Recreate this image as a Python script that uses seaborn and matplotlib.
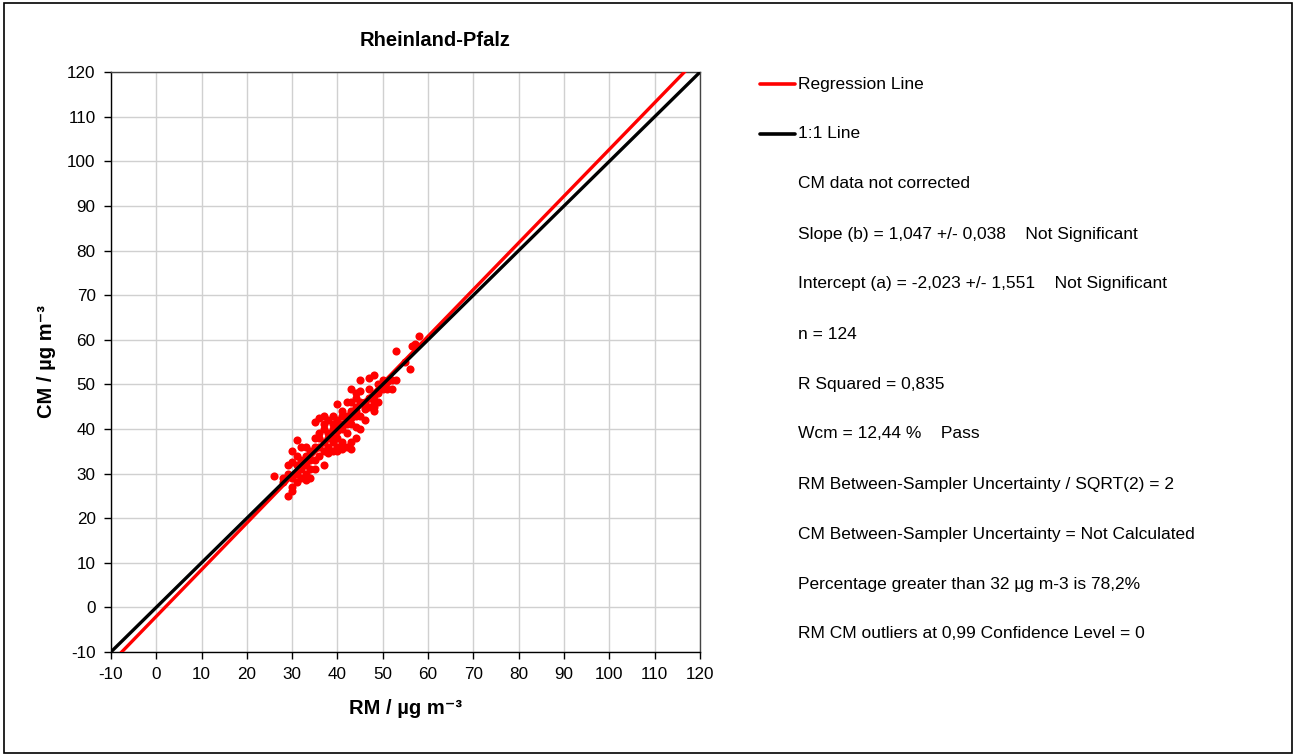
import numpy as np
import pandas as pd
import matplotlib
matplotlib.use("Agg")
import matplotlib.pyplot as plt
from matplotlib.patches import Rectangle
import seaborn as sns

# Paired measurements: reference method (RM) vs candidate method (CM), µg m-3
rm = [58, 57, 56.5, 53, 55, 56, 52, 53, 51, 50, 51, 50, 49, 48, 47, 47, 48, 49, 47, 48,
      46, 45, 44, 43, 44, 43, 45, 44, 42, 43, 41, 42, 40, 41, 40, 39, 38, 37, 36, 35,
      37, 38, 39, 40, 41, 42, 43, 44, 45, 46, 45, 44, 42, 43, 41, 40, 39, 38, 37, 36,
      35, 36, 37, 35, 34, 34, 33, 33, 32, 31, 30, 31, 32, 33, 32, 31, 30, 29, 28, 26,
      29, 30, 33, 30, 29, 30, 31, 32, 34, 36, 38, 39, 40, 41, 42, 46, 47, 48, 44, 38,
      40, 36, 37, 35, 34, 39, 37, 40, 42, 43, 44, 45, 46, 48, 49, 50, 52, 35, 33, 31,
      39, 41, 43, 28]
cm = [60.8, 59, 58.5, 57.5, 55, 53.5, 51, 51, 50.5, 50, 49, 49, 48, 52, 51.5, 47, 46, 46, 45, 44,
      44.5, 51, 48, 49, 47, 46, 46, 45, 46, 44, 44, 42, 45.5, 43, 42, 40, 42, 43, 42.5, 41.5,
      40, 39, 38, 38, 40, 39, 41, 40.5, 43, 42, 40, 38, 36, 37, 37, 36, 35, 36, 37, 38,
      36, 34, 32, 33, 33, 31, 34, 36, 36, 37.5, 35, 32, 31, 30, 29, 28, 29, 30, 29, 29.5,
      32, 32.5, 28.5, 27, 25, 26, 30, 33, 35, 36, 38, 37, 39.5, 41, 43, 46, 49, 47.5, 43, 34.5,
      35, 39, 35, 31, 29, 41, 41, 40.5, 41, 42.5, 44, 48.5, 45, 45, 50, 51, 49, 38, 32, 34,
      43, 35.5, 35.5, 28]

slope = 1.047
intercept = -2.023
axis_ticks = list(range(-10, 121, 10))

stats_lines = [
    "CM data not corrected",
    "Slope (b) = 1,047 +/- 0,038    Not Significant",
    "Intercept (a) = -2,023 +/- 1,551    Not Significant",
    "n = 124",
    "R Squared = 0,835",
    "Wcm = 12,44 %    Pass",
    "RM Between-Sampler Uncertainty / SQRT(2) = 2",
    "CM Between-Sampler Uncertainty = Not Calculated",
    "Percentage greater than 32 µg m-3 is 78,2%",
    "RM CM outliers at 0,99 Confidence Level = 0",
]

sns.set_style("white")
plt.rcParams["font.family"] = ["Liberation Sans", "DejaVu Sans"]
plt.rcParams["axes.unicode_minus"] = False
plt.rcParams["text.color"] = "black"
plt.rcParams["axes.labelcolor"] = "black"
plt.rcParams["xtick.color"] = "black"
plt.rcParams["ytick.color"] = "black"

fig = plt.figure(figsize=(12.96, 7.56), dpi=100)
fig.patches.append(Rectangle((0.003, 0.004), 0.994, 0.992, transform=fig.transFigure,
                             fill=False, edgecolor="black", linewidth=1.2))

ax = fig.add_axes([0.0856, 0.1376, 0.4545, 0.767])

line_x = np.array([-10, 120], dtype=float)
lines = pd.DataFrame({
    "x": np.concatenate([line_x, line_x]),
    "y": np.concatenate([slope * line_x + intercept, line_x]),
    "kind": ["Regression Line"] * 2 + ["1:1 Line"] * 2,
})

pts = pd.DataFrame({"RM": rm, "CM": cm})
sns.scatterplot(data=pts, x="RM", y="CM", ax=ax, color="#ff0000", s=34,
                linewidth=0, zorder=3, legend=False)
sns.lineplot(data=lines[lines.kind == "Regression Line"], x="x", y="y", ax=ax,
             color="#ff0000", linewidth=2.4, zorder=4, legend=False)
sns.lineplot(data=lines[lines.kind == "1:1 Line"], x="x", y="y", ax=ax,
             color="black", linewidth=2.4, zorder=5, legend=False)

ax.set_xlim(-10, 120)
ax.set_ylim(-10, 120)
ax.set_xticks(axis_ticks)
ax.set_yticks(axis_ticks)
ax.grid(True, color="#d0d0d0", linewidth=1.0)
ax.set_axisbelow(True)
for side in ["left", "bottom"]:
    ax.spines[side].set_color("black")
    ax.spines[side].set_linewidth(1.0)
for side in ["top", "right"]:
    ax.spines[side].set_color("#444444")
    ax.spines[side].set_linewidth(1.0)
ax.tick_params(axis="both", direction="out", length=5, width=1, color="black",
               labelsize=12.3, pad=6, left=True, bottom=True)

ax.set_xlabel("RM / µg m⁻³", fontsize=14.5, fontweight="bold", labelpad=12)
ax.set_ylabel("CM / µg m⁻³", fontsize=14.5, fontweight="bold", labelpad=8)

# Legend-style annotation panel on the right
W, H = 1296, 756
def fx(px):
    return px / W
def fy(py):
    return 1 - py / H

fig.text(fx(435), fy(40), "Rheinland-Pfalz", fontsize=14.5, fontweight="bold",
         ha="center", va="center")

fig.add_artist(plt.Line2D([fx(760), fx(795)], [fy(84), fy(84)], color="#ff0000",
                          linewidth=2.6, transform=fig.transFigure))
fig.text(fx(798), fy(84), "Regression Line", fontsize=12.5, va="center", ha="left")
fig.add_artist(plt.Line2D([fx(760), fx(795)], [fy(134), fy(134)], color="black",
                          linewidth=2.6, transform=fig.transFigure))
fig.text(fx(798), fy(134), "1:1 Line", fontsize=12.5, va="center", ha="left")
for i, s in enumerate(stats_lines):
    fig.text(fx(798), fy(184 + 50 * i), s, fontsize=12.5, va="center", ha="left")

fig.savefig("out.png", dpi=100)
